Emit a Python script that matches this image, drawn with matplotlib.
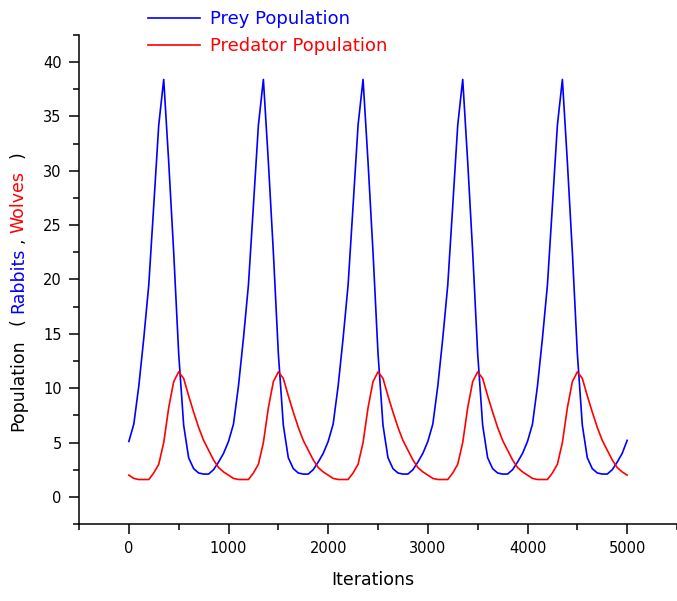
import numpy as np
import matplotlib.pyplot as plt
from matplotlib.ticker import MultipleLocator

# iterations sampled every 50 steps
iterations = np.arange(0, 5001, 50)

# prey (rabbits)
prey = [
    5.1, 6.7, 10.2, 14.6, 19.5, 26.8, 34.2, 38.4, 30.8, 22.5,
    13.2, 6.6, 3.6, 2.6, 2.2, 2.1, 2.1, 2.5, 3.2, 4.0,
    5.1, 6.7, 10.2, 14.6, 19.5, 26.8, 34.2, 38.4, 30.8, 22.5,
    13.2, 6.6, 3.6, 2.6, 2.2, 2.1, 2.1, 2.5, 3.2, 4.0,
    5.1, 6.7, 10.2, 14.6, 19.5, 26.8, 34.2, 38.4, 30.8, 22.5,
    13.2, 6.6, 3.6, 2.6, 2.2, 2.1, 2.1, 2.5, 3.2, 4.0,
    5.1, 6.7, 10.2, 14.6, 19.5, 26.8, 34.2, 38.4, 30.8, 22.5,
    13.2, 6.6, 3.6, 2.6, 2.2, 2.1, 2.1, 2.5, 3.2, 4.0,
    5.1, 6.7, 10.2, 14.6, 19.5, 26.8, 34.2, 38.4, 30.8, 22.5,
    13.2, 6.6, 3.6, 2.6, 2.2, 2.1, 2.1, 2.5, 3.2, 4.0,
    5.2,
]

# predator (wolves)
predator = [
    2.0, 1.7, 1.6, 1.6, 1.6, 2.2, 3.0, 5.0, 8.2, 10.6,
    11.5, 10.9, 9.3, 7.8, 6.4, 5.2, 4.3, 3.4, 2.7, 2.3,
    2.0, 1.7, 1.6, 1.6, 1.6, 2.2, 3.0, 5.0, 8.2, 10.6,
    11.5, 10.9, 9.3, 7.8, 6.4, 5.2, 4.3, 3.4, 2.7, 2.3,
    2.0, 1.7, 1.6, 1.6, 1.6, 2.2, 3.0, 5.0, 8.2, 10.6,
    11.5, 10.9, 9.3, 7.8, 6.4, 5.2, 4.3, 3.4, 2.7, 2.3,
    2.0, 1.7, 1.6, 1.6, 1.6, 2.2, 3.0, 5.0, 8.2, 10.6,
    11.5, 10.9, 9.3, 7.8, 6.4, 5.2, 4.3, 3.4, 2.7, 2.3,
    2.0, 1.7, 1.6, 1.6, 1.6, 2.2, 3.0, 5.0, 8.2, 10.6,
    11.5, 10.9, 9.3, 7.8, 6.4, 5.2, 4.3, 3.4, 2.7, 2.3,
    2.0,
]

fig = plt.figure(figsize=(6.77, 6.01), dpi=100)
ax = fig.add_axes([0.1167, 0.128, 0.8833, 0.814])

ax.plot(iterations, prey, color='#0000ff', lw=1.2, label='Prey Population')
ax.plot(iterations, predator, color='#ff0000', lw=1.2, label='Predator Population')

ax.set_xlim(-500, 5500)
ax.set_ylim(-2.5, 42.5)
ax.xaxis.set_minor_locator(MultipleLocator(500))
ax.yaxis.set_major_locator(MultipleLocator(5))
ax.yaxis.set_minor_locator(MultipleLocator(2.5))
ax.set_xticks(range(0, 5001, 1000))
ax.set_yticks(range(0, 41, 5))
ax.tick_params(which='major', direction='out', length=7, width=1.1,
               labelsize=10.5, pad=5.5)
ax.tick_params(which='minor', direction='out', length=4.5, width=1.1)
for side in ['top', 'right']:
    ax.spines[side].set_visible(False)
for side in ['left', 'bottom']:
    ax.spines[side].set_linewidth(1.1)

fig.text(0.55, 0.035, 'Iterations', ha='center', va='center', fontsize=12.5)

# y label with coloured words, each piece centred where it sits in the original
pieces = ['Population', '(', 'Rabbits', ',', 'Wolves', ')']
piece_colors = ['black', 'black', '#0000ff', 'black', '#ff0000', 'black']
piece_y = [385, 322, 280, 240, 202, 155]
for txt, col, py in zip(pieces, piece_colors, piece_y):
    fig.text(18 / 677, 1 - py / 601, txt, color=col, rotation=90,
             ha='center', va='center', fontsize=12.5)

fig.legend(loc='upper left', bbox_to_anchor=(0.205, 0.998), frameon=False,
           fontsize=13, labelcolor='linecolor', handlelength=2.9,
           handletextpad=0.55, labelspacing=0.5, borderpad=0)

fig.savefig('out.png', dpi=100)
